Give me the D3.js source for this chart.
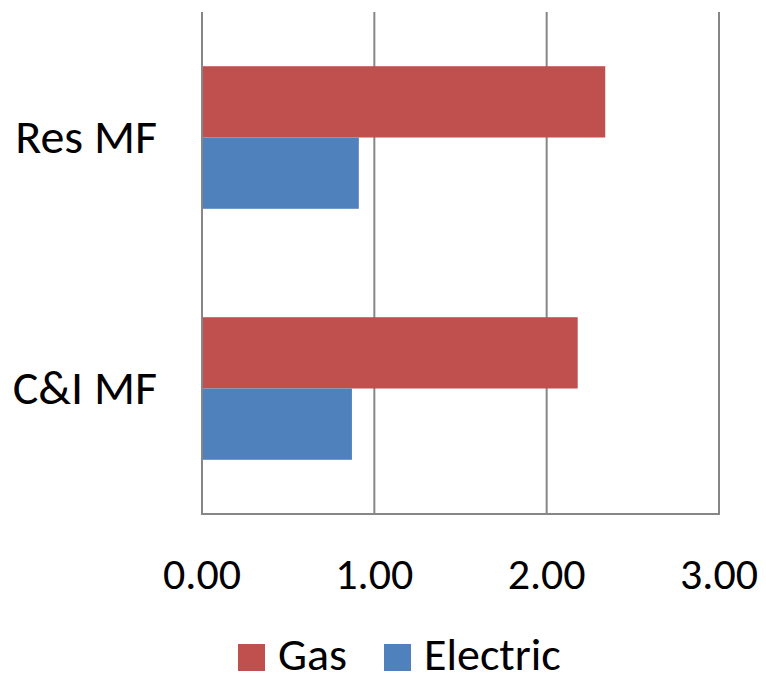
<!DOCTYPE html>
<html>
<head>
<meta charset="utf-8">
<script src="https://cdn.jsdelivr.net/npm/d3@7"></script>
<style>
  html, body { margin: 0; padding: 0; background: #fff; }
  svg { display: block; }
  text { font-family: Carlito, Calibri, Lato, sans-serif; fill: #000; }
</style>
</head>
<body>
<svg id="chart" width="766" height="673"></svg>
<script>
// Categories, top to bottom
const categories = ["Res MF", "C&I MF"];
// Series, drawn top to bottom inside each category
const seriesNames = ["Gas", "Electric"];
const seriesColors = ["#C0504D", "#4F81BD"];
const gasValues = [2.34, 2.18];
const electricValues = [0.91, 0.87];
const tickValues = [0, 1, 2, 3];

const values = { Gas: gasValues, Electric: electricValues };

const svg = d3.select("#chart");

const plot = { left: 202, right: 719, top: 12, bottom: 514 };

const x = d3.scaleLinear().domain([0, 3]).range([plot.left, plot.right]);

const y = d3.scaleBand()
  .domain(categories)
  .range([plot.top, plot.bottom])
  .paddingInner(0.432)
  .paddingOuter(0.216);

const ySub = d3.scaleBand()
  .domain(seriesNames)
  .range([0, y.bandwidth()]);

const color = d3.scaleOrdinal().domain(seriesNames).range(seriesColors);

// Vertical gridlines
svg.append("g")
  .selectAll("line")
  .data(tickValues)
  .join("line")
  .attr("x1", d => x(d)).attr("x2", d => x(d))
  .attr("y1", plot.top).attr("y2", plot.bottom)
  .attr("stroke", "#868686")
  .attr("stroke-width", 2);

// Bars
const rows = categories.flatMap((c, i) =>
  seriesNames.map(s => ({ category: c, series: s, value: values[s][i] })));

svg.append("g")
  .selectAll("rect")
  .data(rows)
  .join("rect")
  .attr("x", x(0) + 1)
  .attr("y", d => y(d.category) + ySub(d.series))
  .attr("width", d => x(d.value) - x(0) - 1)
  .attr("height", ySub.bandwidth())
  .attr("fill", d => color(d.series));

// Bottom axis line
svg.append("line")
  .attr("x1", plot.left - 1).attr("x2", plot.right + 1)
  .attr("y1", plot.bottom).attr("y2", plot.bottom)
  .attr("stroke", "#868686")
  .attr("stroke-width", 2);

// X tick labels
svg.append("g")
  .selectAll("text")
  .data(tickValues)
  .join("text")
  .attr("x", d => x(d))
  .attr("y", 589)
  .attr("text-anchor", "middle")
  .style("font-size", "44px")
  .text(d => d3.format(".2f")(d));

// Category labels
svg.append("g")
  .selectAll("text")
  .data(categories)
  .join("text")
  .attr("x", 157)
  .attr("y", d => y(d) + y.bandwidth() / 2 + 15)
  .attr("text-anchor", "end")
  .style("font-size", "48px")
  .text(d => d);

// Legend
const legendX = [238, 384];
const legend = svg.append("g")
  .selectAll("g")
  .data(seriesNames)
  .join("g")
  .attr("transform", (d, i) => `translate(${legendX[i]},644)`);

legend.append("rect")
  .attr("width", 27).attr("height", 27)
  .attr("fill", d => color(d));

legend.append("text")
  .attr("x", 40)
  .attr("y", 26)
  .style("font-size", "46px")
  .text(d => d);
</script>
</body>
</html>
